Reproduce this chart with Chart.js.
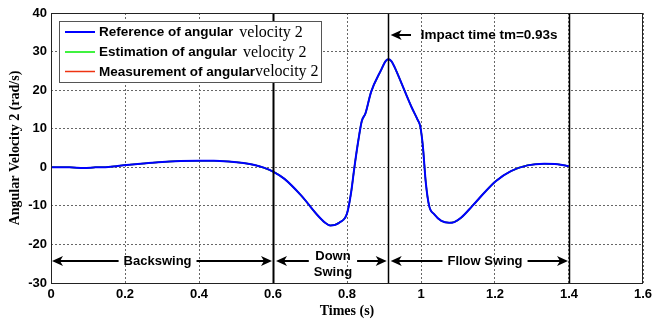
<!DOCTYPE html>
<html>
<head>
<meta charset="utf-8">
<script src="https://cdn.jsdelivr.net/npm/chart.js@4.4.1/dist/chart.umd.min.js"></script>
<style>
  html, body { margin: 0; padding: 0; background: #fff; }
  #wrap { width: 652px; height: 320px; }
</style>
</head>
<body>
<div id="wrap"><canvas id="velChart" width="652" height="320"></canvas></div>
<script>
// --- DATA ---
const times = [0, 0.05, 0.088, 0.12, 0.155, 0.204, 0.25, 0.29, 0.35, 0.40, 0.44, 0.48, 0.52, 0.55, 0.575,
  0.60, 0.631, 0.676, 0.721, 0.74, 0.755, 0.78, 0.80, 0.811, 0.82, 0.831, 0.84, 0.85, 0.865, 0.892,
  0.905, 0.912, 0.92, 0.928, 0.955, 0.975, 0.991, 0.998, 1.005, 1.013, 1.022, 1.036, 1.055, 1.076,
  1.09, 1.108, 1.139, 1.171, 1.202, 1.243, 1.288, 1.333, 1.369, 1.40];
const angVel2 = [0, 0, -0.2, 0, 0.1, 0.6, 1.0, 1.3, 1.6, 1.7, 1.7, 1.5, 1.1, 0.6, -0.1,
  -1.1, -3.0, -7.3, -12.5, -14.3, -15.1, -14.3, -12.0, -6.6, 0, 7.2, 12.0, 14.0, 19.5, 25.2,
  27.6, 28.0, 27.5, 26.1, 20.0, 15.5, 12.3, 10.6, 5.5, -4.0, -10.0, -12.2, -13.9, -14.4,
  -14.2, -13.1, -10.0, -6.6, -3.6, -1.0, 0.5, 0.9, 0.8, 0.3];
// estimation and measurement lie exactly under the reference curve in the figure
const estVel2 = angVel2.slice();
const measVel2 = angVel2.slice();

const xTickLabels = ['0', '0.2', '0.4', '0.6', '0.8', '1', '1.2', '1.4', '1.6'];
const yTickLabels = ['-30', '-20', '-10', '0', '10', '20', '30', '40'];

const seriesNames = ['Reference of angular', 'Estimation of angular', 'Measurement of angular'];
const seriesTail = ['velocity 2', 'velocity 2', 'velocity 2'];
const seriesColors = ['#0000ff', '#00ee00', '#ee3311'];

// phases: boundaries, labels, label centres, arrow height
const phaseBounds = [0, 0.6, 0.91, 1.4];
const phaseLines = [0.6, 0.91, 1.4];
const phaseNames = [['Backswing'], ['Down', 'Swing'], ['Fllow Swing']];
const phaseLabelX = [0.288, 0.762, 1.173];
const phaseArrowY = -24.3;

const impactText = 'Impact time tm=0.93s';
const impactArrow = { from: 0.973, to: 0.918, y: 34.3, textX: 0.999 };

function pts(ys) { return times.map((t, i) => ({ x: t, y: ys[i] })); }

const SANS = '"Liberation Sans", Arial, sans-serif';
const SERIF = '"Liberation Serif", "Times New Roman", serif';

function arrowHead(ctx, x, y, dir) {
  // dir = -1 points left, +1 points right
  ctx.beginPath();
  ctx.moveTo(x, y);
  ctx.lineTo(x - dir * 11, y - 5);
  ctx.lineTo(x - dir * 8, y);
  ctx.lineTo(x - dir * 11, y + 5);
  ctx.closePath();
  ctx.fill();
}

function hArrow(ctx, x1, x2, y, headLeft, headRight) {
  ctx.beginPath();
  ctx.moveTo(x1 + (headLeft ? 6 : 0), y);
  ctx.lineTo(x2 - (headRight ? 6 : 0), y);
  ctx.stroke();
  if (headLeft) arrowHead(ctx, x1, y, -1);
  if (headRight) arrowHead(ctx, x2, y, 1);
}

const annotate = {
  id: 'annotate',
  afterDatasetsDraw(chart) {
    const { ctx, chartArea: a, scales: { x, y } } = chart;
    ctx.save();

    // phase boundary lines
    ctx.strokeStyle = '#000';
    phaseLines.forEach((t, i) => {
      const px = Math.round(x.getPixelForValue(t)) + 0.5;
      ctx.lineWidth = i === 0 ? 2 : 1.5;
      ctx.beginPath();
      ctx.moveTo(px, a.top);
      ctx.lineTo(px, a.bottom);
      ctx.stroke();
    });

    // phase arrows + labels
    ctx.fillStyle = '#000';
    ctx.lineWidth = 2;
    ctx.font = 'bold 13px ' + SANS;
    ctx.textAlign = 'center';
    ctx.textBaseline = 'middle';
    const ay = y.getPixelForValue(phaseArrowY);
    phaseNames.forEach((lines, i) => {
      const x0 = x.getPixelForValue(phaseBounds[i]) + (i === 0 ? 1 : 3);
      const x1 = x.getPixelForValue(phaseBounds[i + 1]) - 1;
      const cx = x.getPixelForValue(phaseLabelX[i]);
      const w = Math.max(...lines.map(s => ctx.measureText(s).width));
      hArrow(ctx, x0, cx - w / 2 - 5, ay, true, false);
      hArrow(ctx, cx + w / 2 + 5, x1, ay, false, true);
      const lh = 16;
      const shift = lines.length > 1 ? 3 : 0;
      lines.forEach((s, k) => {
        ctx.fillText(s, cx, ay + shift + (k - (lines.length - 1) / 2) * lh);
      });
    });

    // impact time marker
    const iy = y.getPixelForValue(impactArrow.y);
    hArrow(ctx, x.getPixelForValue(impactArrow.to), x.getPixelForValue(impactArrow.from), iy, true, false);
    ctx.textAlign = 'left';
    ctx.font = 'bold 13.5px ' + SANS;
    ctx.fillText(impactText, x.getPixelForValue(impactArrow.textX), iy);

    // axes box
    ctx.strokeStyle = '#222';
    ctx.lineWidth = 1;
    ctx.strokeRect(Math.round(a.left) + 0.5, Math.round(a.top) + 0.5,
      Math.round(a.right - a.left) - 1, Math.round(a.bottom - a.top));
    ctx.restore();
  },
  afterDraw(chart) {
    const { ctx } = chart;
    ctx.save();
    // legend box
    const bx = 59.5, by = 21.5, bw = 262, bh = 61;
    ctx.fillStyle = '#fff';
    ctx.fillRect(bx, by, bw, bh);
    ctx.strokeStyle = '#555';
    ctx.lineWidth = 1;
    ctx.strokeRect(bx, by, bw, bh);
    const rowY = [32, 52, 71.5];
    const tailGap = [6, 6, 0];
    ctx.textBaseline = 'middle';
    ctx.textAlign = 'left';
    seriesNames.forEach((name, i) => {
      ctx.strokeStyle = seriesColors[i];
      ctx.lineWidth = i === 0 ? 2 : 1.5;
      ctx.beginPath();
      ctx.moveTo(65, rowY[i]);
      ctx.lineTo(95, rowY[i]);
      ctx.stroke();
      ctx.fillStyle = '#000';
      ctx.font = 'bold 13.5px ' + SANS;
      ctx.fillText(name, 99, rowY[i] + 0.5);
      const w = ctx.measureText(name).width;
      ctx.font = '16px ' + SERIF;
      ctx.fillText(seriesTail[i], 99 + w + tailGap[i], rowY[i] + 0.5);
    });
    ctx.restore();
  }
};

new Chart(document.getElementById('velChart'), {
  type: 'line',
  data: {
    datasets: [
      { label: seriesNames[0] + ' ' + seriesTail[0], data: pts(angVel2), borderColor: seriesColors[0], borderWidth: 2 },
      { label: seriesNames[1] + ' ' + seriesTail[1], data: pts(estVel2), borderColor: seriesColors[1], borderWidth: 1.5 },
      { label: seriesNames[2] + ' ' + seriesTail[2], data: pts(measVel2), borderColor: seriesColors[2], borderWidth: 1.5 }
    ]
  },
  options: {
    responsive: false,
    animation: false,
    devicePixelRatio: 1,
    layout: { padding: { left: 0, right: 9, top: 13, bottom: 0 } },
    elements: {
      point: { radius: 0 },
      line: { cubicInterpolationMode: 'monotone', fill: false }
    },
    plugins: { legend: { display: false }, tooltip: { enabled: false } },
    scales: {
      x: {
        type: 'linear', min: 0, max: 1.6,
        afterFit: s => { s.height = 37; s.paddingLeft = 0; s.paddingRight = 0; },
        ticks: {
          stepSize: 0.2, autoSkip: false, maxRotation: 0, padding: 4, color: '#000',
          font: { family: SANS, size: 13, weight: 'bold' },
          callback: (v, i) => xTickLabels[i]
        },
        grid: { color: '#666', lineWidth: 1, drawTicks: false },
        border: { display: false, dash: [2, 2] },
        title: {
          display: true, text: 'Times (s)', color: '#000',
          font: { family: SERIF, size: 14, weight: 'bold' }, padding: { top: 0, bottom: 0 }
        }
      },
      y: {
        min: -30, max: 40,
        afterFit: s => { s.width = 51; },
        ticks: {
          stepSize: 10, padding: 4, color: '#000',
          font: { family: SANS, size: 13, weight: 'bold' },
          callback: (v, i) => yTickLabels[i]
        },
        grid: { color: '#666', lineWidth: 1, drawTicks: false },
        border: { display: false, dash: [2, 2] },
        title: {
          display: true, text: 'Angular Velocity 2 (rad/s)', color: '#000',
          font: { family: SERIF, size: 14, weight: 'bold' }, padding: { top: 7, bottom: 0 }
        }
      }
    }
  },
  plugins: [annotate]
});
</script>
</body>
</html>
